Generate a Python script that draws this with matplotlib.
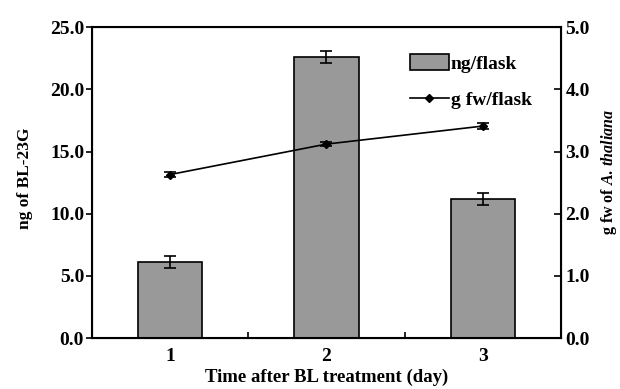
import numpy as np
import matplotlib
matplotlib.use("Agg")
import matplotlib.pyplot as plt
from matplotlib.lines import Line2D

plt.rcParams['font.family'] = ['Liberation Serif', 'DejaVu Serif']
plt.rcParams['font.weight'] = 'bold'
plt.rcParams['mathtext.fontset'] = 'custom'
plt.rcParams['mathtext.rm'] = 'Liberation Serif:bold'
plt.rcParams['mathtext.it'] = 'Liberation Serif:italic:bold'
plt.rcParams['mathtext.bf'] = 'Liberation Serif:bold'

days = [1, 2, 3]
ng = [6.1, 22.6, 11.2]
ng_err = [0.5, 0.45, 0.5]
gfw = [2.63, 3.12, 3.41]
gfw_err = [0.04, 0.03, 0.05]

fig = plt.figure(figsize=(6.2, 3.89), dpi=100)
ax = fig.add_axes([0.148, 0.131, 0.757, 0.799])

x = np.array(days)
ax.bar(x, ng, width=0.41, color='#999999', edgecolor='black', linewidth=1.2,
       yerr=ng_err, capsize=4, error_kw=dict(elinewidth=1.2, capthick=1.2),
       label='ng/flask', zorder=2)
ax.set_xlim(0.5, 3.5)
ax.set_ylim(0, 25)
ax.set_yticks(np.arange(0, 26, 5))
ax.set_yticklabels(['%.1f' % v for v in np.arange(0, 26, 5)])
ax.set_xticks(days)
ax.set_xticks([1.5, 2.5], minor=True)
ax.tick_params(axis='x', which='major', length=0, labelsize=14, pad=7)
ax.tick_params(axis='x', which='minor', direction='in', length=4, width=1.2)
ax.tick_params(axis='y', direction='out', length=4, width=1.2, labelsize=14,
               pad=1.5)
ax.set_xlabel('Time after BL treatment (day)', fontsize=13.5, fontweight='bold')
ax.xaxis.set_label_coords(0.5, -0.1)
ax.set_ylabel('ng of BL-23G', fontsize=12.5, fontweight='bold')
ax.yaxis.set_label_coords(-0.125, 0.515)
for s in ax.spines.values():
    s.set_linewidth(1.5)

ax2 = ax.twinx()
ax2.errorbar(x, gfw, yerr=gfw_err, color='black', marker='D', markersize=4.5,
             linewidth=1.2, capsize=4, elinewidth=1.2, capthick=1.2, zorder=3)
ax2.set_ylim(0, 5)
ax2.set_yticks(np.arange(0, 5.1, 1))
ax2.set_yticklabels(['%.1f' % v for v in np.arange(0, 5.1, 1)])
ax2.tick_params(axis='y', direction='in', length=5, width=1.2, labelsize=14,
                pad=3)
ax2.set_ylabel(r'g fw of $\mathit{A.\,thaliana}$', fontsize=11.5,
               fontweight='bold')
ax2.yaxis.set_label_coords(1.08, 0.535)

h1, l1 = ax.get_legend_handles_labels()
line_handle = Line2D([], [], color='black', marker='D', markersize=4.5,
                     linewidth=1.2)
ax2.legend(h1 + [line_handle], l1 + ['g fw/flask'], loc='upper right',
           bbox_to_anchor=(0.975, 0.97), frameon=False, fontsize=14,
           handlelength=2.0, handleheight=0.9, labelspacing=0.9,
           handletextpad=0.1)

fig.savefig('out.png', dpi=100)
